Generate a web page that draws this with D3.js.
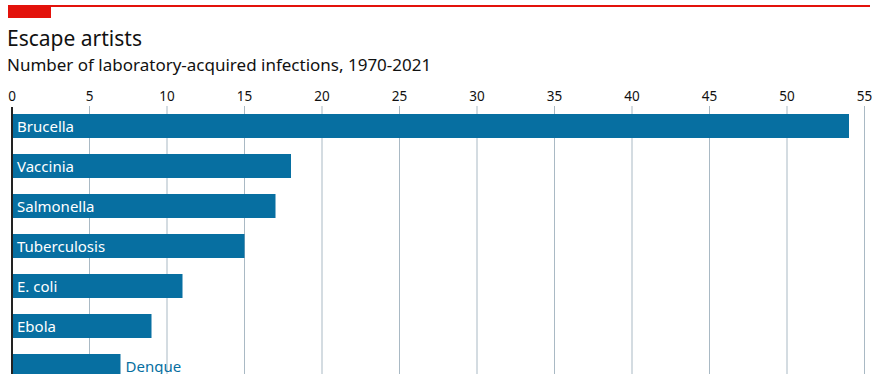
<!DOCTYPE html>
<html>
<head>
<meta charset="utf-8">
<script src="https://cdn.jsdelivr.net/npm/d3@7"></script>
<style>
  body { margin: 0; background: #fff; overflow: hidden; }
  svg { display: block; font-family: "Noto Sans", sans-serif; }
</style>
</head>
<body>
<div id="chart"></div>
<script>
// Data
const categories = ['Brucella', 'Vaccinia', 'Salmonella', 'Tuberculosis', 'E. coli', 'Ebola', 'Dengue'];
const values = [54, 18, 17, 15, 11, 9, 7];
const tickValues = [0, 5, 10, 15, 20, 25, 30, 35, 40, 45, 50, 55];

const width = 878;
const height = 374;
const blue = '#076fa1';
const red = '#e3120b';

const svg = d3.select('#chart')
  .append('svg')
  .attr('width', width)
  .attr('height', height);

// Header decoration
svg.append('rect')
  .attr('x', 8).attr('y', 5)
  .attr('width', 862).attr('height', 2)
  .attr('fill', red);
svg.append('rect')
  .attr('x', 8).attr('y', 5)
  .attr('width', 43).attr('height', 13)
  .attr('fill', red);

svg.append('text')
  .attr('x', 7).attr('y', 46)
  .style('font-size', '21px')
  .style('fill', '#111')
  .text('Escape artists');

svg.append('text')
  .attr('x', 7).attr('y', 71)
  .style('font-size', '17px')
  .style('fill', '#111')
  .text('Number of laboratory-acquired infections, 1970-2021');

// Scales
const x = d3.scaleLinear().domain([0, 55]).range([12, 864.5]);
const y = d3.scaleBand()
  .domain(categories)
  .range([114, 114 + 40 * categories.length - 16])
  .paddingInner(0.4)
  .paddingOuter(0);

// Gridlines + tick labels
const axis = svg.append('g');
axis.selectAll('line')
  .data(tickValues.slice(1))
  .join('line')
  .attr('x1', d => x(d)).attr('x2', d => x(d))
  .attr('y1', 106).attr('y2', height)
  .attr('stroke', '#a9b9c4')
  .attr('stroke-width', 1);

axis.selectAll('text')
  .data(tickValues)
  .join('text')
  .attr('x', d => x(d))
  .attr('y', 101)
  .attr('text-anchor', 'middle')
  .style('font-size', '13.5px')
  .style('fill', '#111')
  .text(d => d);

// Bars
svg.selectAll('.bar')
  .data(values)
  .join('rect')
  .attr('class', 'bar')
  .attr('x', x(0))
  .attr('y', (d, i) => y(categories[i]))
  .attr('width', d => x(d) - x(0))
  .attr('height', y.bandwidth())
  .attr('fill', blue);

// Labels: inside bar in white unless the bar is too short
const labelFits = (d, i) => categories[i] !== 'Dengue';
svg.selectAll('.label')
  .data(values)
  .join('text')
  .attr('class', 'label')
  .attr('x', (d, i) => labelFits(d, i) ? x(0) + 5 : x(d) + 5)
  .attr('y', (d, i) => y(categories[i]) + y.bandwidth() / 2 + 5.5)
  .style('font-size', '15px')
  .style('fill', (d, i) => labelFits(d, i) ? '#fff' : blue)
  .text((d, i) => categories[i]);

// Zero axis line
svg.append('line')
  .attr('x1', x(0)).attr('x2', x(0))
  .attr('y1', 107).attr('y2', height)
  .attr('stroke', '#222')
  .attr('stroke-width', 2);
</script>
</body>
</html>
